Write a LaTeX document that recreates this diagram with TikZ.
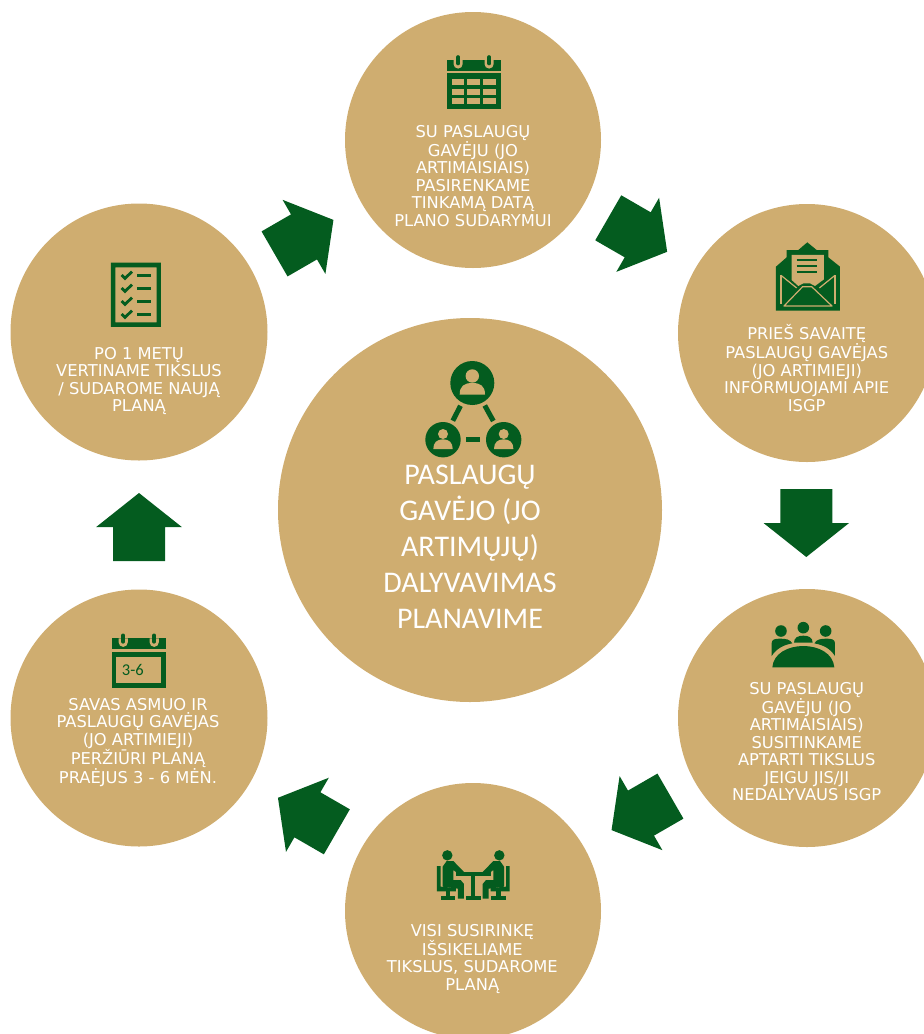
\documentclass[tikz,border=0pt]{standalone}
\usepackage{fontspec}
\setmainfont{DejaVu Sans}
\newfontfamily\carlitofont{Carlito}
\definecolor{tan}{HTML}{CFAD70}
\definecolor{leaf}{HTML}{045C1F}
\tikzset{
  x=1pt,y=-1pt,
  disc/.style={circle,fill=tan,inner sep=0pt,minimum size=#1},
  caption/.style={text=white,align=center,inner sep=0pt,font=\fontsize{16.3}{17.5}\selectfont},
  bigcaption/.style={text=white,align=center,inner sep=0pt,font=\carlitofont\fontsize{30}{36}\selectfont},
  blockarrow/.pic={\fill[leaf] (-34,-26) -- (0,-26) -- (0,-42.8) -- (34,0) -- (0,42.8) -- (0,26) -- (-34,26) -- cycle;},
  peer/.style={circle,fill=leaf,inner sep=0pt,minimum size=#1},
  link/.style={draw=leaf,line width=5pt},
}
% calendar header with rings; #1,#2 = left end, top of rings
\newcommand{\calhead}[2]{%
  \fill[leaf] (#1,#2+5) rectangle (#1+54,#2+15.7);
  \foreach \rx in {11.5,42.5}{
    \fill[tan] (#1+\rx-4.6,#2+5) -- (#1+\rx-4.6,#2+9) arc[start angle=180,end angle=360,radius=4.6pt] -- (#1+\rx+4.6,#2+5) -- cycle;
    \draw[leaf,line width=3.6pt,line cap=round] (#1+\rx,#2+2) -- (#1+\rx,#2+8.5);
  }
}
\begin{document}
\begin{tikzpicture}
\useasboundingbox (0,0) rectangle (924,1034);
\clip (0,0) rectangle (924,1034);
% discs
\node[disc=256pt] (top) at (473,140) {};
\node[disc=258pt] (rtop) at (807,333) {};
\node[disc=258pt] (rbot) at (807,718) {};
\node[disc=256pt] (bot) at (473,911) {};
\node[disc=257pt] (lbot) at (139,718) {};
\node[disc=257pt] (ltop) at (139,332) {};
\node[disc=384pt] (mid) at (470,510) {};
% arrows
\pic[rotate=-30] (a1) at (637.7,234.8) {blockarrow};
\pic[rotate=-90] (a2) at (806.3,523) {blockarrow};
\pic[rotate=210] (a3) at (641,813.1) {blockarrow};
\pic[rotate=150] (a4) at (307.4,814.8) {blockarrow};
\pic[rotate=90] (a5) at (139,527) {blockarrow};
\pic[rotate=30] (a6) at (304,236.9) {blockarrow};
% captions
\node[caption] (ttop) at (473,176) {SU PASLAUGŲ\\GAVĖJU (JO\\ARTIMAISIAIS)\\PASIRENKAME\\TINKAMĄ DATĄ\\PLANO SUDARYMUI};
\node[caption] (trtop) at (806.7,368) {PRIEŠ SAVAITĘ\\PASLAUGŲ GAVĖJAS\\(JO ARTIMIEJI)\\INFORMUOJAMI APIE\\ISGP};
\node[caption] (trbot) at (806.7,741.7) {SU PASLAUGŲ\\GAVĖJU (JO\\ARTIMAISIAIS)\\SUSITINKAME\\APTARTI TIKSLUS\\JEIGU JIS/JI\\NEDALYVAUS ISGP};
\node[caption] (tbot) at (472.3,958.7) {VISI SUSIRINKĘ\\IŠSIKELIAME\\TIKSLUS, SUDAROME\\PLANĄ};
\node[caption] (tlbot) at (138,742.3) {SAVAS ASMUO IR\\PASLAUGŲ GAVĖJAS\\(JO ARTIMIEJI)\\PERŽIŪRI PLANĄ\\PRAĖJUS 3 - 6 MĖN.};
\node[caption] (tltop) at (139,381) {PO 1 METŲ\\VERTINAME TIKSLUS\\/ SUDAROME NAUJĄ\\PLANĄ};
\node[bigcaption] (tmid) at (470,547) {PASLAUGŲ\\GAVĖJO (JO\\ARTIMŲJŲ)\\DALYVAVIMAS\\PLANAVIME};
% calendar icon (top)
\begin{scope}
\calhead{446.6}{55}
\fill[leaf] (446.6,73.3) rectangle (500.6,109.3);
\foreach \cx in {451.7,467.3,483.3}
  \foreach \cy in {79,89,98.3}
    \fill[tan] (\cx,\cy) rectangle (\cx+12.3,\cy+6);
\end{scope}
% calendar icon (3-6)
\begin{scope}
\calhead{111.7}{633.3}
\fill[leaf] (111.7,652.3) rectangle (165.7,688.3);
\fill[tan] (116,657.3) rectangle (160.7,683.3);
\node[text=leaf,font=\carlitofont\fontsize{16.5}{16.5}\selectfont,inner sep=0pt] (cal36) at (132.8,670) {3-6};
\end{scope}
% envelope icon
\begin{scope}[shift={(680,200)},x=0.3333pt,y=-0.3333pt]
\fill[leaf] (288,200) -- (320,172) -- (320,150) -- (355,150) -- (382,127) -- (410,150) -- (445,150) -- (445,172) -- (480,200) -- (480,332) -- (288,332) -- cycle;
\fill[tan] (335,165) -- (432,165) -- (432,238) -- (405,258) -- (390,250) -- (370,250) -- (355,258) -- (335,240) -- cycle;
\foreach \ly in {180,198,216} \draw[leaf,line width=2pt] (350,\ly) -- (412,\ly);
\draw[tan,line width=1.2pt] (303,226) -- (350,264) (465,226) -- (418,264);
\draw[tan,line width=1.2pt] (303,226) -- (303,312) (465,226) -- (465,312);
\draw[tan,line width=1.2pt,line join=round] (312,318) -- (368,260) -- (395,260) -- (456,318) -- cycle;
\end{scope}
% meeting icon
\begin{scope}[shift={(680,590)},x=0.3333pt,y=-0.3333pt]
\foreach \hx/\hy in {303/123,370/113,437/123} \fill[leaf] (\hx,\hy) circle[radius=5.8pt];
\fill[leaf] (275,198) -- (275,160) .. controls (275,148) and (285,146) .. (300,146) .. controls (318,146) and (330,148) .. (337,160) .. controls (310,165) and (290,175) .. (275,198) -- cycle;
\fill[leaf] (465,198) -- (465,160) .. controls (465,148) and (455,146) .. (440,146) .. controls (422,146) and (410,148) .. (403,160) .. controls (430,165) and (450,175) .. (465,198) -- cycle;
\fill[leaf] (342,158) .. controls (342,142) and (355,137) .. (370,137) .. controls (385,137) and (398,142) .. (398,158) -- cycle;
\fill[leaf] (277,232) .. controls (280,190) and (325,168) .. (370,168) .. controls (415,168) and (460,190) .. (463,232) -- cycle;
\end{scope}
% table icon
\begin{scope}[shift={(350,830)},x=0.3333pt,y=-0.3333pt]
\fill[leaf] (292,76) circle[radius=5.2pt] (448,76) circle[radius=5.2pt];
\foreach \mir in {0,1}{
\begin{scope}[xshift=246.67pt*\mir,xscale=1-2*\mir]
\fill[leaf] (278,110) -- (290,93) -- (310,93) -- (342,126) -- (318,126) -- (310,120) -- (310,150) -- (332,150) -- (342,162) -- (342,206) -- (324,206) -- (324,176) -- (278,170) -- cycle;
\fill[leaf] (261,108) -- (272,108) -- (272,170) -- (318,174) -- (318,184) -- (261,184) -- cycle;
\fill[leaf] (288,184) rectangle (301,200);
\fill[leaf] (272,199) rectangle (316,211);
\end{scope}}
\fill[leaf] (318,127) rectangle (422,138);
\fill[leaf] (364,138) rectangle (376,200);
\fill[leaf] (348,199) rectangle (392,211);
\end{scope}
% checklist icon
\begin{scope}[shift={(10,240)},x=0.3333pt,y=-0.3333pt]
\fill[leaf,even odd rule] (303,68) rectangle (453,261) (316,82) rectangle (440,247);
\foreach \ly in {107,146,185,224}{
  \draw[leaf,line width=2.8pt] (335,\ly-2) -- (345,\ly+8) -- (366,\ly-12);
  \draw[leaf,line width=2.7pt] (382,\ly) -- (424,\ly);
}
\end{scope}
% network icon
\node[peer=44pt] (p1) at (472.3,383) {};
\node[peer=35.4pt] (p2) at (443,439.7) {};
\node[peer=35.4pt] (p3) at (503.7,439.7) {};
\draw[link,shorten >=3.5pt,shorten <=3.5pt] (p1) -- (p2);
\draw[link,shorten >=3.5pt,shorten <=3.5pt] (p1) -- (p3);
\draw[link,shorten >=5.5pt,shorten <=5.5pt] (p2) -- (p3);
\fill[tan] (472.3,376) circle[radius=6.7pt];
\fill[tan] (459.7,394.5) .. controls (459.7,386) and (464,383) .. (472.3,383) .. controls (480.6,383) and (485,386) .. (485,394.5) -- cycle;
\foreach \px in {443,503.7}{
  \fill[tan] (\px,434) circle[radius=5pt];
  \fill[tan] (\px-9.7,449) .. controls (\px-9.7,442.5) and (\px-6,439.3) .. (\px,439.3) .. controls (\px+6,439.3) and (\px+9.7,442.5) .. (\px+9.7,449) -- cycle;
}
\end{tikzpicture}
\end{document}
